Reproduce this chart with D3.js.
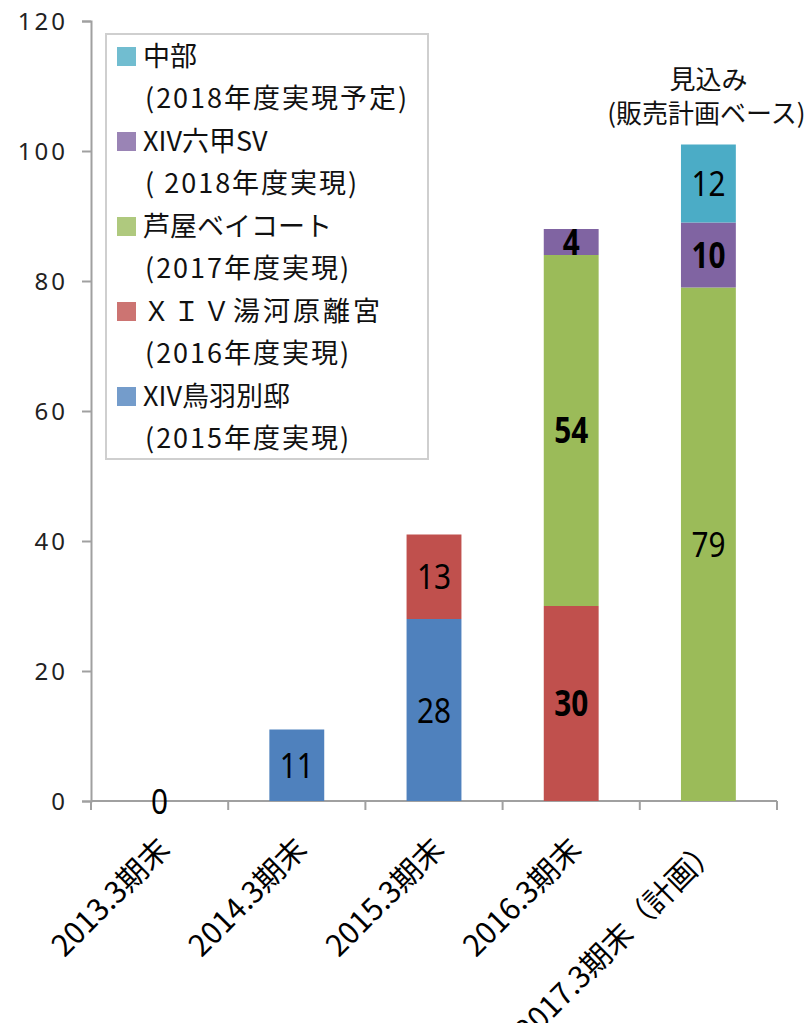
<!DOCTYPE html>
<html>
<head>
<meta charset="utf-8">
<script src="https://cdn.jsdelivr.net/npm/d3@7"></script>
<style>
body { margin: 0; background: #fff; }
text { font-family: "Noto Sans", "Noto Sans CJK JP", sans-serif; }
</style>
</head>
<body>
<div id="screen"></div>
<script>
var width = 808, height = 1023;

var categories = ["2013.3期末", "2014.3期末", "2015.3期末", "2016.3期末", "2017.3期末（計画）"];
var seriesNames = ["XIV鳥羽別邸", "ＸＩＶ湯河原離宮", "芦屋ベイコート", "XIV六甲SV", "中部"];
var seriesSub = ["(2015年度実現)", "(2016年度実現)", "(2017年度実現)", "( 2018年度実現)", "(2018年度実現予定)"];
var toba = [0, 11, 28, 0, 0];
var yugawara = [0, 0, 13, 30, 0];
var ashiya = [0, 0, 0, 54, 79];
var rokko = [0, 0, 0, 4, 10];
var chubu = [0, 0, 0, 0, 12];
// which value labels are drawn bold (key-categoryIndex)
var boldLabels = ["ashiya-3", "yugawara-3", "rokko-3", "rokko-4"];
var yTicks = [0, 20, 40, 60, 80, 100, 120];

var colors = ["#4f81bd", "#c0504d", "#9bbb59", "#8064a2", "#4bacc6"];
var swatchColors = ["#749ccb", "#cc7472", "#afc97e", "#9a84b5", "#71bdd0"];

var margin = {left: 91, right: 31, top: 21, bottom: 222};
var svg = d3.select("#screen").append("svg").attr("width", width).attr("height", height);

var x = d3.scaleBand().domain(categories).range([margin.left, width - margin.right]).paddingInner(0.6).paddingOuter(0.3);
var y = d3.scaleLinear().domain([0, 120]).range([height - margin.bottom, margin.top]);

var rows = categories.map(function(c, i) {
    return {cat: c, toba: toba[i], yugawara: yugawara[i], ashiya: ashiya[i], rokko: rokko[i], chubu: chubu[i]};
});
var keys = ["toba", "yugawara", "ashiya", "rokko", "chubu"];
var stacked = d3.stack().keys(keys)(rows);

// y axis
var yAxis = svg.append("g").attr("transform", "translate(" + margin.left + ",0)")
    .call(d3.axisLeft(y).tickValues(yTicks).tickSize(9).tickPadding(14));
yAxis.select(".domain").attr("stroke", "#a0a0a0").attr("stroke-width", 2);
yAxis.selectAll(".tick line").attr("stroke", "#a0a0a0").attr("stroke-width", 2);
yAxis.selectAll(".tick text").attr("font-size", 24).attr("fill", "#222")
    .attr("letter-spacing", 3)
    .style("font-family", "'Noto Sans', sans-serif").attr("dy", "0.35em");

// x axis
var step = x.step();
var xTicks = categories.map(function(c) { return x(c) - (step - x.bandwidth()) / 2; });
xTicks.push(width - margin.right);
var xg = svg.append("g");
xg.append("line").attr("x1", margin.left).attr("x2", width - margin.right)
    .attr("y1", y(0)).attr("y2", y(0)).attr("stroke", "#a0a0a0").attr("stroke-width", 2);
xg.selectAll("line.tk").data(xTicks).enter().append("line").attr("class", "tk")
    .attr("x1", function(d) { return d; }).attr("x2", function(d) { return d; })
    .attr("y1", y(0)).attr("y2", y(0) + 9).attr("stroke", "#a0a0a0").attr("stroke-width", 2);

// bars
var layers = svg.append("g").selectAll("g").data(stacked).enter().append("g")
    .attr("fill", function(d, i) { return colors[i]; });
layers.selectAll("rect").data(function(d) { return d.filter(function(p) { return p[1] - p[0] > 0; }); })
    .enter().append("rect")
    .attr("x", function(d) { return x(d.data.cat); })
    .attr("width", x.bandwidth())
    .attr("y", function(d) { return y(d[1]); })
    .attr("height", function(d) { return y(d[0]) - y(d[1]); });

var valueLabel = function(cx, cy, txt, bold) {
    svg.append("text")
        .attr("transform", "translate(" + cx + "," + cy + ") scale(0.85,1)")
        .attr("dy", "0.36em")
        .attr("text-anchor", "middle")
        .attr("font-size", 35)
        .attr("font-weight", bold ? "bold" : "normal")
        .attr("fill", "#000")
        .text(txt);
};

// value labels
stacked.forEach(function(layer) {
    layer.forEach(function(p, ci) {
        var v = p[1] - p[0];
        if (v <= 0) return;
        var bold = boldLabels.indexOf(layer.key + "-" + ci) >= 0;
        valueLabel(x(p.data.cat) + x.bandwidth() / 2, (y(p[0]) + y(p[1])) / 2, v, bold);
    });
});
// zero label for first category
valueLabel(x(categories[0]) + x.bandwidth() / 2, y(0), "0", false);

// category labels, rotated
svg.append("g").selectAll("text").data(categories).enter().append("text")
    .attr("transform", function(d) {
        return "translate(" + (x(d) + x.bandwidth() / 2 + 12) + "," + (y(0) + 50) + ") rotate(-45)";
    })
    .attr("text-anchor", "end")
    .attr("font-size", 30)
    .attr("fill", "#000")
    .style("font-family", "'Noto Sans CJK JP', sans-serif")
    .text(function(d) { return d; });

// legend
var legend = svg.append("g");
legend.append("rect").attr("x", 106).attr("y", 34).attr("width", 322).attr("height", 425)
    .attr("fill", "#fff").attr("stroke", "#cfcfcf").attr("stroke-width", 2);
var order = [4, 3, 2, 1, 0];
order.forEach(function(si, k) {
    var top = 56 + k * 85;
    legend.append("rect").attr("x", 117).attr("y", top - 9).attr("width", 19).attr("height", 19)
        .attr("fill", swatchColors[si]);
    legend.append("text").attr("x", 143).attr("y", top).attr("dy", "0.36em")
        .attr("font-size", 27).attr("fill", "#111")
        .attr("letter-spacing", si === 1 ? 3 : 0)
        .style("font-family", "'Noto Sans CJK JP', sans-serif")
        .text(seriesNames[si]);
    legend.append("text").attr("x", 145).attr("y", top + 42).attr("dy", "0.36em")
        .attr("font-size", 27).attr("fill", "#111")
        .attr("letter-spacing", 2)
        .style("font-family", "'Noto Sans CJK JP', sans-serif")
        .text(seriesSub[si]);
});

// annotation above last bar
var cx = x(categories[4]) + x.bandwidth() / 2;
svg.append("text").attr("x", cx).attr("y", 80).attr("dy", "0.36em").attr("text-anchor", "middle")
    .attr("font-size", 26).attr("fill", "#111").style("font-family", "'Noto Sans CJK JP', sans-serif")
    .text("見込み");
svg.append("text").attr("x", cx - 2).attr("y", 114).attr("dy", "0.36em").attr("text-anchor", "middle")
    .attr("font-size", 26).attr("fill", "#111").style("font-family", "'Noto Sans CJK JP', sans-serif")
    .text("(販売計画ベース)");
</script>
</body>
</html>
